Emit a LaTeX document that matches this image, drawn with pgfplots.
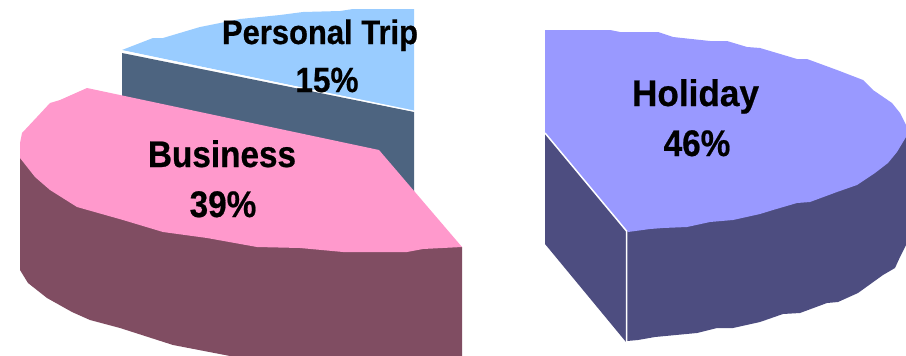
\documentclass[border=0pt]{standalone}
\usepackage{fontspec}
\setmainfont{Liberation Sans}[BoldFeatures={FakeBold=0.6}]
\usepackage{graphicx}
\usepackage{pgfplots}
\pgfplotsset{compat=1.18}
\definecolor{holidayTop}{RGB}{153,153,255}
\definecolor{holidaySide}{RGB}{77,77,128}
\definecolor{businessTop}{RGB}{255,153,204}
\definecolor{businessSide}{RGB}{128,77,98}
\definecolor{tripTop}{RGB}{153,204,255}
\definecolor{tripSide}{RGB}{77,100,128}
% size, horizontal squeeze, text
\newcommand{\lab}[3]{\scalebox{#2}[1]{\fontsize{#1}{#1}\selectfont\bfseries #3}}
\begin{document}
\begin{tikzpicture}
\begin{axis}[
  scale only axis, width=906pt, height=356pt,
  xmin=0, xmax=906, ymin=0, ymax=356, y dir=reverse,
  hide axis,
  slice/.style={draw=none, forget plot},
  seam/.style={draw=white, line width=1.5pt, forget plot},
]
% Personal Trip wedge: cut face, then top
\addplot[slice, fill=tripSide] coordinates {(122,53) (414,112) (414,192) (122,97)} -- cycle;
\addplot[slice, fill=tripTop] coordinates {
  (122,50) (153,38) (163,38) (200,27) (240,19) (280,15) (303,12) (340,11) (353,9)
  (414,9) (414,111)} -- cycle;
\addplot[draw=white, line width=1pt, forget plot] coordinates {(122,51) (414,111)};

% Business wedge: rim, then top
\addplot[slice, fill=businessSide] coordinates {
  (20,158) (462,247) (462,356) (230,356) (173,345) (120,328) (90,320) (72,312)
  (47,298) (28,283) (20,270)} -- cycle;
\addplot[slice, fill=businessTop] coordinates {
  (87,88) (379,150) (462,247) (423,249) (407,252) (343,252) (300,248) (257,247)
  (207,238) (163,232) (123,220) (77,207) (50,190) (35,177) (20,158) (20,143)
  (22,133) (37,117) (50,103) (60,100)} -- cycle;

% Holiday wedge: cut face, rim, then top
\addplot[slice, fill=holidaySide] coordinates {(545,133) (626,230) (626,342) (545,244)} -- cycle;
\addplot[slice, fill=holidaySide] coordinates {
  (627,231) (906,137) (906,245) (900,257) (895,268) (883,275) (858,293) (838,302)
  (827,303) (800,313) (783,314) (760,322) (733,328) (717,328) (697,333) (655,337)
  (638,340) (627,341)} -- cycle;
\addplot[slice, fill=holidayTop] coordinates {
  (545,30) (610,30) (620,32) (658,32) (673,37) (710,41) (727,41) (747,47) (760,48)
  (797,59) (807,59) (837,70) (863,80) (873,90) (892,103) (900,113) (906,125) (906,137)
  (897,152) (888,163) (875,173) (857,185) (837,192) (810,202) (797,203) (773,210)
  (760,214) (733,220) (710,222) (687,227) (663,228) (650,229) (628,232) (626,230)
  (545,133)} -- cycle;
\addplot[seam] coordinates {(545,133) (626.5,231) (626.5,342)};

% Category and share labels
\node[anchor=base, inner sep=0pt] at (axis cs:320,44) {\lab{34}{0.91}{Personal Trip}};
\node[anchor=base, inner sep=0pt] at (axis cs:327,92) {\lab{35}{0.9}{15\%}};
\node[anchor=base, inner sep=0pt] at (axis cs:222,167) {\lab{37}{0.9}{Business}};
\node[anchor=base, inner sep=0pt] at (axis cs:223,217) {\lab{37}{0.9}{39\%}};
\node[anchor=base, inner sep=0pt] at (axis cs:695.5,106) {\lab{37}{0.95}{Holiday}};
\node[anchor=base, inner sep=0pt] at (axis cs:697,156) {\lab{37}{0.9}{46\%}};
\end{axis}
% Keep the page the full size of the axis box
\path (0,0) rectangle (906pt,356pt);
\end{tikzpicture}
\end{document}
